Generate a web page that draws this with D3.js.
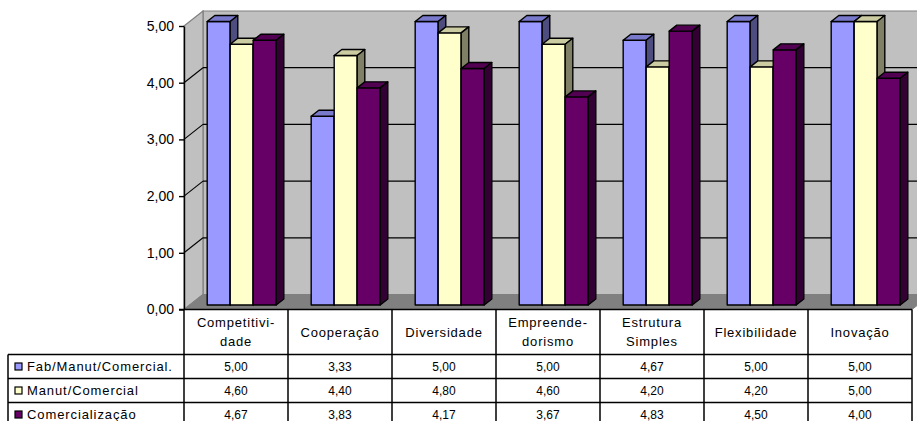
<!DOCTYPE html>
<html>
<head>
<meta charset="utf-8">
<script src="https://cdn.jsdelivr.net/npm/d3@7"></script>
<style>
  body { margin: 0; background: #fff; }
  svg { display: block; }
  text { font-family: "Liberation Sans", Arial, sans-serif; fill: #000; }
</style>
</head>
<body>
<svg id="chart" width="917" height="421"></svg>
<script>
// ---- data ----
const categories = ["Competitivi-\ndade", "Cooperação", "Diversidade", "Empreende-\ndorismo",
                    "Estrutura\nSimples", "Flexibilidade", "Inovação"];
const seriesNames = ["Fab/Manut/Comercial.", "Manut/Comercial", "Comercialização"];
const fabManutComercial = [5.00, 3.33, 5.00, 5.00, 4.67, 5.00, 5.00];
const manutComercial    = [4.60, 4.40, 4.80, 4.60, 4.20, 4.20, 5.00];
const comercializacao   = [4.67, 3.83, 4.17, 3.67, 4.83, 4.50, 4.00];
const yTicks = [0, 1, 2, 3, 4, 5];

const seriesValues = [fabManutComercial, manutComercial, comercializacao];
const faceColors = [
  { front: "#9999ff", top: "#7a7acc", side: "#4d4d80" },
  { front: "#ffffcc", top: "#cccca3", side: "#808066" },
  { front: "#660066", top: "#520052", side: "#330033" }
];

// ---- layout ----
const W = 917, H = 421;
const axisX = 184, tableRight = 912, tableLeft = 8;
const DX = 19, DY = -15;            // full depth of the 3-D box
const barD0 = 0.3, barD1 = 0.7;     // bars occupy this slice of the depth
const headerTop = 309.5, headerBottom = 354.5, rowH = 24;

const locale = d3.formatLocale({ decimal: ",", thousands: ".", grouping: [3], currency: ["R$", ""] });
const fmt = locale.format(".2f");

const svg = d3.select("#chart");
const x = d3.scaleBand().domain(d3.range(categories.length)).range([axisX, tableRight]).padding(0);
const xs = d3.scaleBand().domain(d3.range(seriesNames.length)).range([0, x.bandwidth()])
  .paddingInner(0).paddingOuter(0.76);
const y = d3.scaleLinear().domain([0, 5]).range([headerTop, 26]);

// ---- walls and floor ----
const walls = svg.append("g");
const yMax = y(5), yMin = y(0);
walls.append("polygon")
  .attr("points", [[axisX + DX, yMax + DY], [axisX + DX + 760, yMax + DY], [axisX + DX + 760, yMin + DY], [axisX + DX, yMin + DY]].join(" "))
  .attr("fill", "#c0c0c0").attr("stroke", "#808080").attr("stroke-width", 1.2);
walls.append("polygon")
  .attr("points", [[axisX, yMax], [axisX + DX, yMax + DY], [axisX + DX, yMin + DY], [axisX, yMin]].join(" "))
  .attr("fill", "#c0c0c0").attr("stroke", "#808080").attr("stroke-width", 1.2);
walls.append("polygon")
  .attr("points", [[axisX, yMin], [tableRight, yMin], [tableRight + DX, yMin + DY], [axisX + DX, yMin + DY]].join(" "))
  .attr("fill", "#808080").attr("stroke", "#808080");

// gridlines on back and side walls
const grid = walls.selectAll("g.grid").data(yTicks.filter(v => v > 0 && v < 5)).join("g");
grid.append("line")
  .attr("x1", axisX + DX).attr("x2", W + 20)
  .attr("y1", d => y(d) + DY).attr("y2", d => y(d) + DY)
  .attr("stroke", "#000").attr("stroke-width", 1.3);
grid.append("line")
  .attr("x1", axisX).attr("x2", axisX + DX)
  .attr("y1", d => y(d)).attr("y2", d => y(d) + DY)
  .attr("stroke", "#000").attr("stroke-width", 1.1);

// ---- 3-D columns ----
const bars = [];
categories.forEach((c, ci) => {
  seriesValues.forEach((vals, si) => {
    bars.push({ ci, si, v: vals[ci] });
  });
});
const fx = barD0 * DX, fy = barD0 * DY;
const bdx = (barD1 - barD0) * DX, bdy = (barD1 - barD0) * DY;
const bw = xs.bandwidth();
const barG = svg.append("g").selectAll("g").data(bars).join("g");
barG.each(function (d) {
  const g = d3.select(this);
  const x0 = x(d.ci) + xs(d.si) + fx, x1 = x0 + bw;
  const yt = y(d.v) + fy, yb = y(0) + fy;
  const col = faceColors[d.si];
  g.append("polygon")
    .attr("points", [[x0, yb], [x1, yb], [x1, yt], [x0, yt]].join(" "))
    .attr("fill", col.front);
  g.append("polygon")
    .attr("points", [[x0, yt], [x1, yt], [x1 + bdx, yt + bdy], [x0 + bdx, yt + bdy]].join(" "))
    .attr("fill", col.top);
  g.append("polygon")
    .attr("points", [[x1, yb], [x1 + bdx, yb + bdy], [x1 + bdx, yt + bdy], [x1, yt]].join(" "))
    .attr("fill", col.side);
  g.selectAll("polygon").attr("stroke", "#000").attr("stroke-width", 1.4).attr("stroke-linejoin", "round");
});

// ---- value axis ----
const yAxis = svg.append("g")
  .attr("transform", `translate(${axisX},0)`)
  .call(d3.axisLeft(y).tickValues(yTicks).tickFormat(fmt).tickSize(5).tickSizeOuter(0).tickPadding(5));
yAxis.select(".domain").attr("stroke", "#000").attr("stroke-width", 1.4);
yAxis.selectAll(".tick line").attr("stroke", "#000").attr("stroke-width", 1.4);
yAxis.selectAll(".tick text").attr("font-size", 14).attr("fill", "#000")
  .attr("font-family", "'Liberation Sans', Arial, sans-serif");

// ---- data table ----
const table = svg.append("g");
const line = (x1, y1, x2, y2) => table.append("line")
  .attr("x1", x1).attr("y1", y1).attr("x2", x2).attr("y2", y2)
  .attr("stroke", "#000").attr("stroke-width", 1.5);

line(axisX - 5, headerTop, tableRight, headerTop);
for (let r = 0; r < seriesNames.length; r++) {
  line(tableLeft, headerBottom + r * rowH, tableRight, headerBottom + r * rowH);
}
line(tableLeft, headerBottom, tableLeft, H + 5);
d3.range(categories.length + 1).forEach(i => {
  const xx = i < categories.length ? x(i) : tableRight;
  line(xx, headerTop, xx, H + 5);
});

// category headers
const hdr = table.selectAll("text.hdr").data(categories).join("text")
  .attr("class", "hdr")
  .attr("text-anchor", "middle")
  .attr("font-size", 13)
  .attr("letter-spacing", 0.8);
hdr.each(function (d, i) {
  const parts = d.split("\n");
  const cx = x(i) + x.bandwidth() / 2;
  const mid = (headerTop + headerBottom) / 2;
  const lh = 19;
  parts.forEach((p, k) => {
    d3.select(this).append("tspan")
      .attr("x", cx)
      .attr("y", mid + (k - (parts.length - 1) / 2) * lh)
      .attr("dy", "0.35em")
      .text(p);
  });
});

// legend cells
const rows = table.selectAll("g.row").data(seriesNames).join("g")
  .attr("transform", (d, i) => `translate(0,${headerBottom + i * rowH})`);
rows.append("rect")
  .attr("x", 15).attr("y", rowH / 2 - 3.5).attr("width", 7).attr("height", 7)
  .attr("fill", (d, i) => faceColors[i].front).attr("stroke", "#000").attr("stroke-width", 1.2);
rows.append("text")
  .attr("x", 27).attr("y", rowH / 2).attr("dy", "0.35em")
  .attr("font-size", 13).attr("letter-spacing", 0.9)
  .text(d => d);
rows.each(function (d, si) {
  d3.select(this).selectAll("text.val").data(seriesValues[si]).join("text")
    .attr("class", "val")
    .attr("x", (v, ci) => x(ci) + x.bandwidth() / 2)
    .attr("y", rowH / 2).attr("dy", "0.35em")
    .attr("text-anchor", "middle")
    .attr("font-size", 12)
    .text(v => fmt(v));
});
</script>
</body>
</html>
